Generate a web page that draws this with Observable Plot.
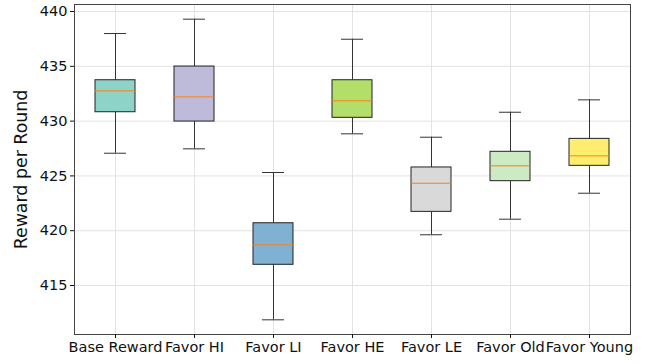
<!DOCTYPE html>
<html>
<head>
<meta charset="utf-8">
<script src="https://cdn.jsdelivr.net/npm/d3@7"></script>
<script src="https://cdn.jsdelivr.net/npm/@observablehq/plot@0.6"></script>
<style>
  html, body { margin: 0; padding: 0; background: #fff; }
  svg { display: block; }
</style>
</head>
<body>
<div id="chart"></div>
<script>
const categories = ["Base Reward", "Favor HI", "Favor LI", "Favor HE", "Favor LE", "Favor Old", "Favor Young"];
const whiskerLow  = [427.07, 427.47, 411.87, 428.84, 419.63, 421.05, 423.42];
const q1          = [430.81, 429.96, 416.89, 430.30, 421.72, 424.52, 425.92];
const median      = [432.76, 432.21, 418.71, 431.85, 424.33, 425.92, 426.83];
const q3          = [433.73, 434.98, 420.68, 433.73, 425.77, 427.20, 428.38];
const whiskerHigh = [437.99, 439.30, 425.31, 437.47, 428.53, 430.81, 431.94];
const boxColors   = ["#8dd3c7", "#bebada", "#80b1d3", "#b3de69", "#d9d9d9", "#ccebc5", "#ffed6f"];
const yTicks = [415, 420, 425, 430, 435, 440];

const data = categories.map((c, i) => ({
  cat: c, lo: whiskerLow[i], q1: q1[i], med: median[i], q3: q3[i], hi: whiskerHigh[i], color: boxColors[i]
}));

const chart = Plot.plot({
  width: 650,
  height: 364,
  marginLeft: 74,
  marginRight: 20,
  marginTop: 4,
  marginBottom: 30,
  style: { fontFamily: "DejaVu Sans", fontSize: "14.5px", background: "#fff", color: "#111" },
  x: { type: "band", domain: categories, paddingInner: 0.5, paddingOuter: 0.25, label: null },
  y: { domain: [410.53, 440.64], label: null },
  color: { type: "identity" },
  marks: [
    Plot.gridY(yTicks, { stroke: "#e3e3e3", strokeOpacity: 1 }),
    Plot.gridX(categories, { stroke: "#e3e3e3", strokeOpacity: 1 }),
    Plot.ruleX(data, { x: "cat", y1: "lo", y2: "q1", stroke: "#333", strokeWidth: 1 }),
    Plot.ruleX(data, { x: "cat", y1: "q3", y2: "hi", stroke: "#333", strokeWidth: 1 }),
    Plot.tickY(data, { x: "cat", y: "lo", stroke: "#333", strokeWidth: 1, insetLeft: 9, insetRight: 9 }),
    Plot.tickY(data, { x: "cat", y: "hi", stroke: "#333", strokeWidth: 1, insetLeft: 9, insetRight: 9 }),
    Plot.barY(data, { x: "cat", y1: "q1", y2: "q3", fill: "color", stroke: "#222", strokeWidth: 1 }),
    Plot.tickY(data, { x: "cat", y: "med", stroke: "#ff7f0e", strokeWidth: 1 }),
    Plot.frame({ stroke: "#444", strokeWidth: 1 }),
    Plot.axisY(yTicks, { tickSize: 4, tickPadding: 3, fontSize: 14.5, label: "Reward per Round", labelAnchor: "center", labelArrow: "none", labelOffset: 60 }),
    Plot.axisX({ tickSize: 4, tickPadding: 3, fontSize: 14.5, label: null })
  ]
});
document.getElementById("chart").appendChild(chart);
// enlarge y label
chart.querySelectorAll("g[aria-label='y-axis label'] text").forEach(t => t.setAttribute("font-size", "17.4"));
</script>
</body>
</html>
